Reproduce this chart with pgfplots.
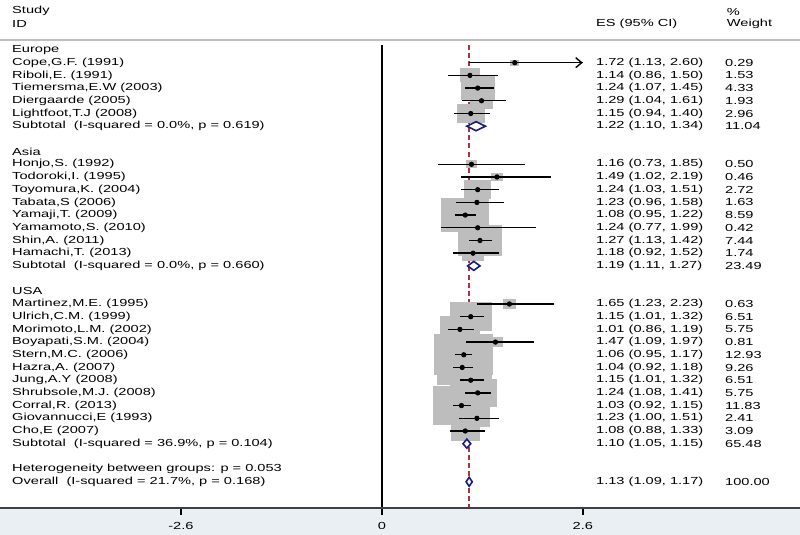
\documentclass[border=0pt]{standalone}
\usepackage{pgfplots}
\pgfplotsset{compat=1.18}
\usepackage{pgfplotstable}
\usepackage{graphicx}
\usepackage{fontspec}
\setmainfont{Liberation Sans}
\usetikzlibrary{arrows.meta}
\definecolor{bgblue}{HTML}{E9EFF2}
\definecolor{nullred}{HTML}{B03040}
\definecolor{dnavy}{HTML}{1A1A80}
\definecolor{boxgray}{HTML}{BDBDBD}
\newcommand{\tx}[1]{\scalebox{1}[0.7]{\fontsize{7.3}{8}\selectfont #1}}
\pgfdeclareplotmark{rbox}{\pgfpathrectangle{\pgfpoint{-\pgfplotmarksize}{-0.7\pgfplotmarksize}}{\pgfpoint{2\pgfplotmarksize}{1.4\pgfplotmarksize}}\pgfusepathqfill}

% row: y = 458 - 12.7*row
\pgfplotstableread{
y es lo hi w
445.3 1.72 1.13 2.60 0.29
432.6 1.14 0.86 1.50 1.53
419.9 1.24 1.07 1.45 4.33
407.2 1.29 1.04 1.61 1.93
394.5 1.15 0.94 1.40 2.96
343.7 1.16 0.73 1.85 0.50
331.0 1.49 1.02 2.19 0.46
318.3 1.24 1.03 1.51 2.72
305.6 1.23 0.96 1.58 1.63
292.9 1.08 0.95 1.22 8.59
280.2 1.24 0.77 1.99 0.42
267.5 1.27 1.13 1.42 7.44
254.8 1.18 0.92 1.52 1.74
204.0 1.65 1.23 2.23 0.63
191.3 1.15 1.01 1.32 6.51
178.6 1.01 0.86 1.19 5.75
165.9 1.47 1.09 1.97 0.81
153.2 1.06 0.95 1.17 12.93
140.5 1.04 0.92 1.18 9.26
127.8 1.15 1.01 1.32 6.51
115.1 1.24 1.08 1.41 5.75
102.4 1.03 0.92 1.15 11.83
89.7 1.23 1.00 1.51 2.41
77.0 1.08 0.88 1.33 3.09
}\studies

\begin{document}
\begin{tikzpicture}
\begin{axis}[
  name=fp,
  width=400pt, height=267.5pt, scale only axis,
  xmin=-4.94, xmax=5.41, ymin=-27, ymax=508,
  clip=false,
  axis x line=middle, axis y line=none,
  x axis line style={-, line width=0.6pt, draw=black!75},
  xtick={-2.6,0,2.6},
  xticklabels={\tx{-2.6},\tx{0},\tx{2.6}},
  tick align=outside,
  major tick length=3.5pt,
  xtick style={line width=0.9pt, black},
  xticklabel style={inner sep=0pt, yshift=-3.5pt, text=black},
  ytick=\empty,
  set layers,
]
% background strip under the axis
\addplot[fill=bgblue, draw=none, on layer=axis background] coordinates {(-4.94,0) (5.41,0) (5.41,-27) (-4.94,-27)} -- cycle;
% header rule
\addplot[line width=1pt, draw=black!25] coordinates {(-4.94,468) (5.41,468)};
% no-effect line and overall line
\addplot[line width=1.3pt, black, on layer=axis grid] coordinates {(0,463) (0,0)};
\addplot[line width=0.9pt, nullred, dash pattern=on 2.5pt off 1.6pt, on layer=axis grid] coordinates {(1.13,463) (1.13,0)};

% weight boxes
\addplot[scatter, only marks, mark=rbox, on layer=axis grid, mark layer=axis grid,
  visualization depends on={4.1*sqrt(\thisrow{w})\as\msz},
  scatter/@pre marker code/.code={\scope[fill=boxgray, draw=none]\pgfmathsetlength\pgfplotmarksize{\msz pt}},
  scatter/@post marker code/.code={\endscope}]
  table[x=es, y=y]{\studies};

% CIs and point estimates
\addplot[only marks, mark=*, mark size=1.1pt, black,
  error bars/.cd, x dir=both, x explicit, error mark=none,
  error bar style={line width=0.7pt, black}]
  table[x=es, y=y, x error plus expr=\thisrow{hi}-\thisrow{es}, x error minus expr=\thisrow{es}-\thisrow{lo}]{\studies};
\addplot[line width=0.7pt, black, -{Straight Barb[length=3pt, width=5pt]}] coordinates {(2.3,445.3) (2.6,445.3)};

% diamonds
\addplot[line width=0.8pt, draw=dnavy, fill=white] coordinates {(1.10,381.8) (1.22,386.3) (1.34,381.8) (1.22,377.3)} -- cycle;
\addplot[line width=0.8pt, draw=dnavy, fill=white] coordinates {(1.11,242.1) (1.19,246.6) (1.27,242.1) (1.19,237.6)} -- cycle;
\addplot[line width=0.8pt, draw=dnavy, fill=white] coordinates {(1.05,64.3) (1.10,68.8) (1.15,64.3) (1.10,59.8)} -- cycle;
\addplot[line width=0.8pt, draw=dnavy, fill=white] coordinates {(1.09,26.2) (1.13,30.7) (1.17,26.2) (1.13,21.7)} -- cycle;

% header text
\node[anchor=west, inner sep=0] at (axis cs:-4.787,497) {\tx{Study}};
\node[anchor=west, inner sep=0] at (axis cs:-4.787,484) {\tx{ID}};
\node[anchor=west, inner sep=0] at (axis cs:2.768,484) {\tx{ES (95\% CI)}};
\node[anchor=west, inner sep=0] at (axis cs:4.46,496) {\tx{\%}};
\node[anchor=west, inner sep=0] at (axis cs:4.46,484) {\tx{Weight}};

% study labels
\foreach \yy/\lab in {
458.0/Europe, 445.3/{Cope,G.F. (1991)}, 432.6/{Riboli,E. (1991)}, 419.9/{Tiemersma,E.W (2003)},
407.2/{Diergaarde (2005)}, 394.5/{Lightfoot,T.J (2008)}, 381.8/{Subtotal \ (I-squared = 0.0\%, p = 0.619)},
356.4/Asia, 343.7/{Honjo,S. (1992)}, 331.0/{Todoroki,I. (1995)}, 318.3/{Toyomura,K. (2004)},
305.6/{Tabata,S (2006)}, 292.9/{Yamaji,T. (2009)}, 280.2/{Yamamoto,S. (2010)}, 267.5/{Shin,A. (2011)},
254.8/{Hamachi,T. (2013)}, 242.1/{Subtotal \ (I-squared = 0.0\%, p = 0.660)},
216.7/USA, 204.0/{Martinez,M.E. (1995)}, 191.3/{Ulrich,C.M. (1999)}, 178.6/{Morimoto,L.M. (2002)},
165.9/{Boyapati,S.M. (2004)}, 153.2/{Stern,M.C. (2006)}, 140.5/{Hazra,A. (2007)}, 127.8/{Jung,A.Y (2008)},
115.1/{Shrubsole,M.J. (2008)}, 102.4/{Corral,R. (2013)}, 89.7/{Giovannucci,E (1993)}, 77.0/{Cho,E (2007)},
64.3/{Subtotal \ (I-squared = 36.9\%, p = 0.104)},
38.9/{Heterogeneity between groups: p = 0.053}, 26.2/{Overall \ (I-squared = 21.7\%, p = 0.168)}}
{\edef\temp{\noexpand\node[anchor=west, inner sep=0] at (axis cs:-4.787,\yy) {\noexpand\tx{\unexpanded\expandafter{\lab}}};}\temp}

% ES and weight columns
\foreach \yy/\est/\wgt in {
445.3/{1.72 (1.13, 2.60)}/0.29, 432.6/{1.14 (0.86, 1.50)}/1.53, 419.9/{1.24 (1.07, 1.45)}/4.33,
407.2/{1.29 (1.04, 1.61)}/1.93, 394.5/{1.15 (0.94, 1.40)}/2.96, 381.8/{1.22 (1.10, 1.34)}/11.04,
343.7/{1.16 (0.73, 1.85)}/0.50, 331.0/{1.49 (1.02, 2.19)}/0.46, 318.3/{1.24 (1.03, 1.51)}/2.72,
305.6/{1.23 (0.96, 1.58)}/1.63, 292.9/{1.08 (0.95, 1.22)}/8.59, 280.2/{1.24 (0.77, 1.99)}/0.42,
267.5/{1.27 (1.13, 1.42)}/7.44, 254.8/{1.18 (0.92, 1.52)}/1.74, 242.1/{1.19 (1.11, 1.27)}/23.49,
204.0/{1.65 (1.23, 2.23)}/0.63, 191.3/{1.15 (1.01, 1.32)}/6.51, 178.6/{1.01 (0.86, 1.19)}/5.75,
165.9/{1.47 (1.09, 1.97)}/0.81, 153.2/{1.06 (0.95, 1.17)}/12.93, 140.5/{1.04 (0.92, 1.18)}/9.26,
127.8/{1.15 (1.01, 1.32)}/6.51, 115.1/{1.24 (1.08, 1.41)}/5.75, 102.4/{1.03 (0.92, 1.15)}/11.83,
89.7/{1.23 (1.00, 1.51)}/2.41, 77.0/{1.08 (0.88, 1.33)}/3.09, 64.3/{1.10 (1.05, 1.15)}/65.48,
26.2/{1.13 (1.09, 1.17)}/100.00}
{\edef\temp{\noexpand\node[anchor=west, inner sep=0] at (axis cs:2.768,\yy) {\noexpand\tx{\unexpanded\expandafter{\est}}};
 \noexpand\node[anchor=west, inner sep=0] at (axis cs:4.437,\yy) {\noexpand\tx{\wgt}};}\temp}
\end{axis}
\pgfresetboundingbox
\useasboundingbox (fp.south west) rectangle (fp.north east);
\end{tikzpicture}
\end{document}
